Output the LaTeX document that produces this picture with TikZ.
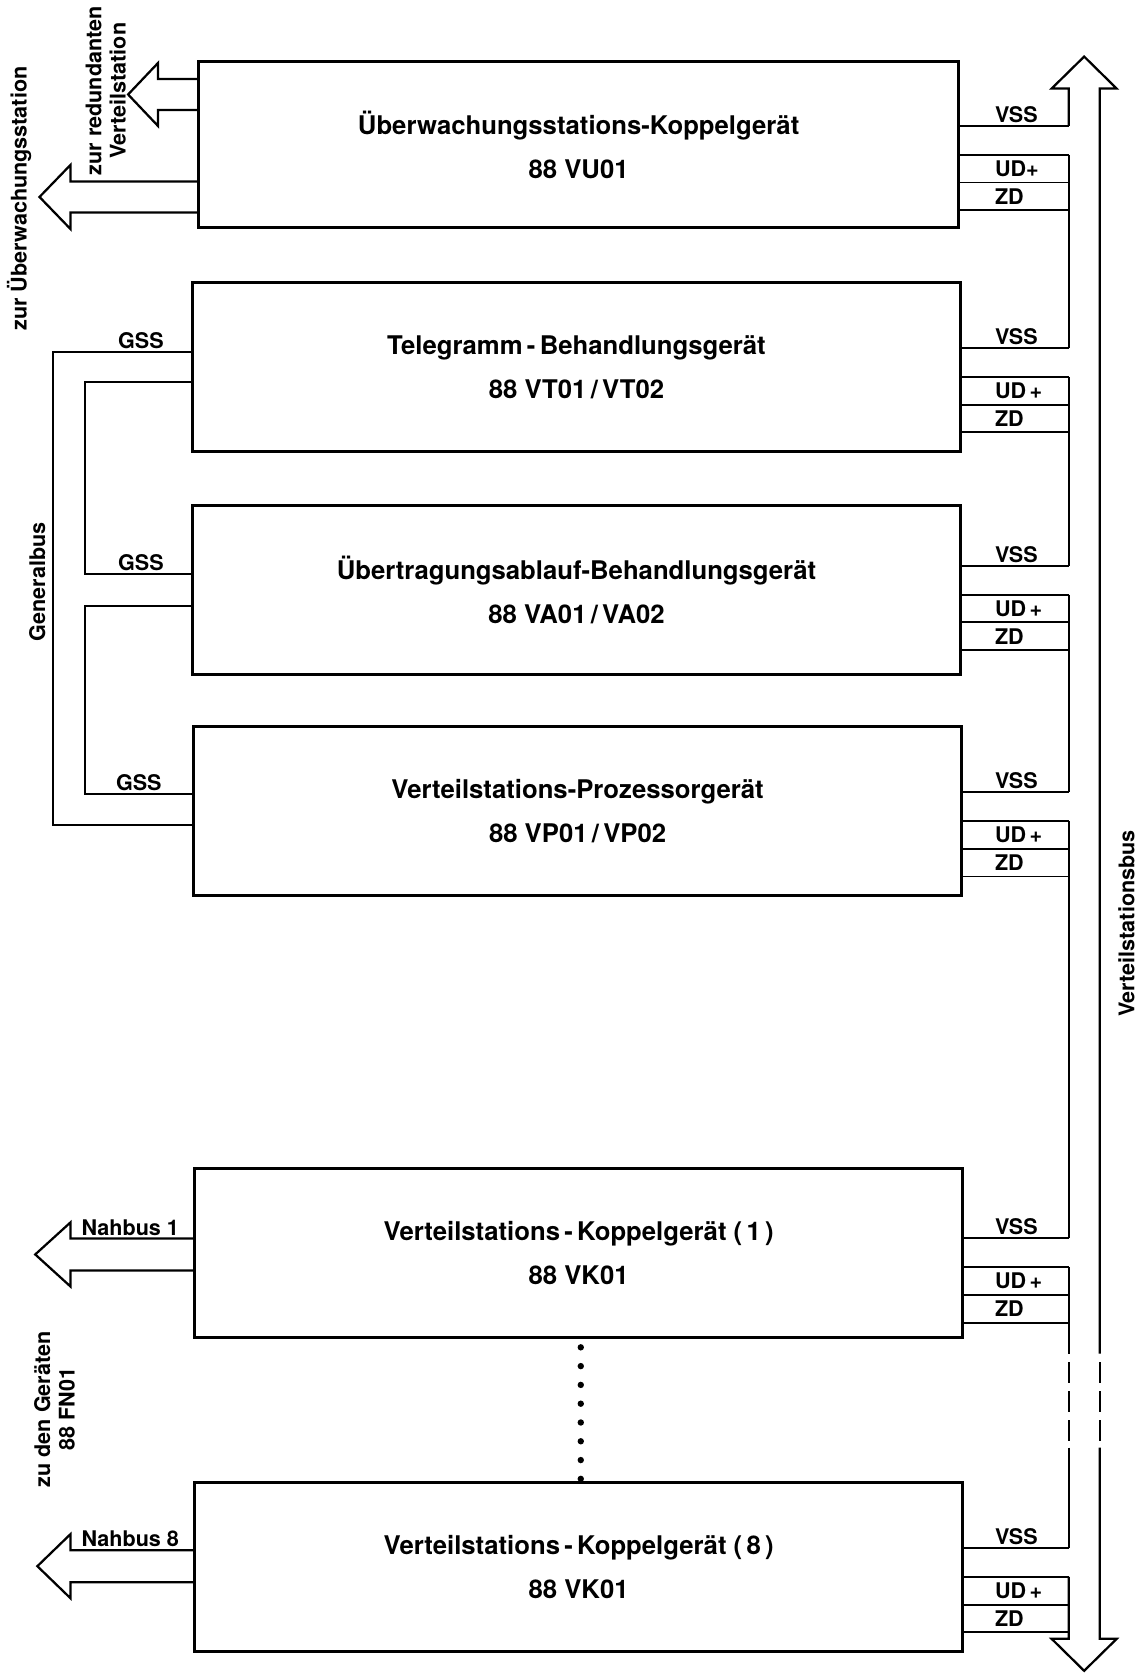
\documentclass[tikz,border=0pt]{standalone}
\usepackage{fontspec}
\setmainfont{TeX Gyre Heros}
\usetikzlibrary{calc}
\newcommand\BusL{1001}
\newcommand\BusR{1030}
\newcommand\BusM{1015.5}
\tikzset{
  geraet/.style={
    draw,
    line width=1.6pt,
    inner sep=0pt,
    align=center,
    minimum width=14.4cm,
    minimum height=3.16cm,
    font=\fontsize{13.7}{23.5}\selectfont\bfseries
  },
}
\tikzset{
  leitung/.style={
    line width=1pt
  },
  pfeil/.style={
    line width=1.2pt,
    line join=miter
  },
  sig/.style={
    font=\fontsize{11.5}{12}\selectfont\bfseries,
    inner sep=1.5pt
  },
  seite/.style={
    font=\fontsize{11.5}{13}\selectfont\bfseries,
    rotate=90,
    align=center,
    inner sep=0pt
  },
  punkt/.style={
    circle,
    fill,
    inner sep=0pt,
    minimum size=0.12cm
  }
}

\begin{document}
\begin{tikzpicture}[x=0.02cm,y=-0.02cm]
    \useasboundingbox (0,0) rectangle (1066,1568);

    % Geraete
    \node[geraet, minimum width=14.24cm, minimum height=3.1cm] (vu) at (542,135.5) {\"Uberwachungsstations-Koppelger\"at\\88 VU01};
    \node[geraet] (vt) at (540,344) {Telegramm\,-\,Behandlungsger\"at\\88 VT01\,/\,VT02};
    \node[geraet] (va) at (540,552.5) {\"Ubertragungsablauf-Behandlungsger\"at\\88 VA01\,/\,VA02};
    \node[geraet] (vp) at (541,759.5) {Verteilstations-Prozessorger\"at\\88 VP01\,/\,VP02};
    \node[geraet] (vk1) at (542,1173.5) {Verteilstations\,-\,Koppelger\"at (\,1\,)\\88 VK01};
    \node[geraet] (vk8) at (542,1467.5) {Verteilstations\,-\,Koppelger\"at (\,8\,)\\88 VK01};

    \foreach \i in {0,...,7}
        \node[punkt] (dot\i) at (544,1262+\i*17.6) {};

    % Anschluesse an den Verteilstationsbus
    \foreach \dev/\yv/\ud in {vu/118/UD+, vt/326/UD\,+, va/530/UD\,+, vp/742/UD\,+, vk1/1160/UD\,+, vk8/1450/UD\,+}{
        \coordinate (\dev-v) at (\BusL,\yv);
        \coordinate (\dev-u) at (\BusL,\yv+27);
        \draw[leitung] (\dev.east |- \dev-v) -- (\dev-v);
        \draw[leitung] (\dev.east |- \dev-u) -- (\dev-u);
        \draw[leitung] (\dev.east |- 0,\yv+53) -- (\BusL,\yv+53);
        \draw[leitung] (\dev.east |- 0,\yv+79) -- (\BusL,\yv+79);
        \node[sig, anchor=south west] at (929,\yv) {VSS};
        \node[sig, anchor=west] at (929,\yv+40) {\ud};
        \node[sig, anchor=west] at (929,\yv+66) {ZD};
    }

    \draw[leitung] (vu-u) -- (vt-v);
    \draw[leitung] (vt-u) -- (va-v);
    \draw[leitung] (va-u) -- (vp-v);
    \draw[leitung] (vp-u) -- (vk1-v);
    \coordinate (lueckeO) at (\BusL,1268);
    \coordinate (lueckeU) at (\BusL,1356);
    \draw[leitung] (vk1-u) -- (lueckeO);
    \draw[leitung, dash pattern=on 11pt off 4.5pt, dash phase=11pt] (lueckeO) -- (lueckeU);
    \draw[leitung] (lueckeU) -- (vk8-v);

    % Verteilstationsbus
    \coordinate (busOL) at (\BusL,83);
    \coordinate (busOR) at (\BusR,83);
    \coordinate (busUL) at (\BusL,1535);
    \coordinate (busUR) at (\BusR,1535);
    \draw[pfeil] (vu-v) -- (busOL) -- (985,83) -- (\BusM,53) -- (1046,83) -- (busOR) -- (\BusR,1268);
    \draw[pfeil, dash pattern=on 11pt off 4.5pt, dash phase=11pt] (\BusR,1268) -- (\BusR,1356);
    \draw[pfeil] (\BusR,1356) -- (busUR) -- (1046,1535) -- (\BusM,1565) -- (985,1535) -- (busUL) -- (vk8-u);
    \node[seite] (vbus) at (1055,865) {Verteilstationsbus};

    % Generalbus
    \coordinate (gA) at (50,330);
    \coordinate (gB) at (50,773);
    \draw[leitung] (vt.west |- gA) -- (gA) -- (gB) -- (vp.west |- gB);
    \draw[leitung] (vt.west |- 0,358) -- (80,358) -- (80,538) -- (va.west |- 0,538);
    \draw[leitung] (va.west |- 0,568) -- (80,568) -- (80,744) -- (vp.west |- 0,744);
    \node[sig, anchor=south] at (132,330) {GSS};
    \node[sig, anchor=south] at (132,538) {GSS};
    \node[sig, anchor=south] at (130,744) {GSS};
    \node[seite] (gbus) at (35,545) {Generalbus};

    % Pfeile nach links
    \draw[pfeil] (vu.west |- 0,74) -- (148,74) -- (148,59) -- (120,88.5) -- (148,118) -- (148,103) -- (vu.west |- 0,103);
    \draw[pfeil] (vu.west |- 0,170) -- (66,170) -- (66,154.5) -- (37,184.5) -- (66,214.5) -- (66,199) -- (vu.west |- 0,199);
    \draw[pfeil] (vk1.west |- 0,1160) -- (66,1160) -- (66,1145) -- (33,1175) -- (66,1205) -- (66,1190) -- (vk1.west |- 0,1190);
    \draw[pfeil] (vk8.west |- 0,1452) -- (66,1452) -- (66,1437) -- (35,1467) -- (66,1497) -- (66,1482) -- (vk8.west |- 0,1482);
    \node[sig, anchor=south] at (122,1160) {Nahbus 1};
    \node[sig, anchor=south] at (122,1452) {Nahbus 8};

    \node[seite] (redtxt) at (99,85) {zur redundanten\\Verteilstation};
    \node[seite] (uetxt) at (18,186) {zur \"Uberwachungsstation};
    \node[seite] (fntxt) at (51,1320) {zu den Ger\"aten\\88 FN01};
\end{tikzpicture}
\end{document}
